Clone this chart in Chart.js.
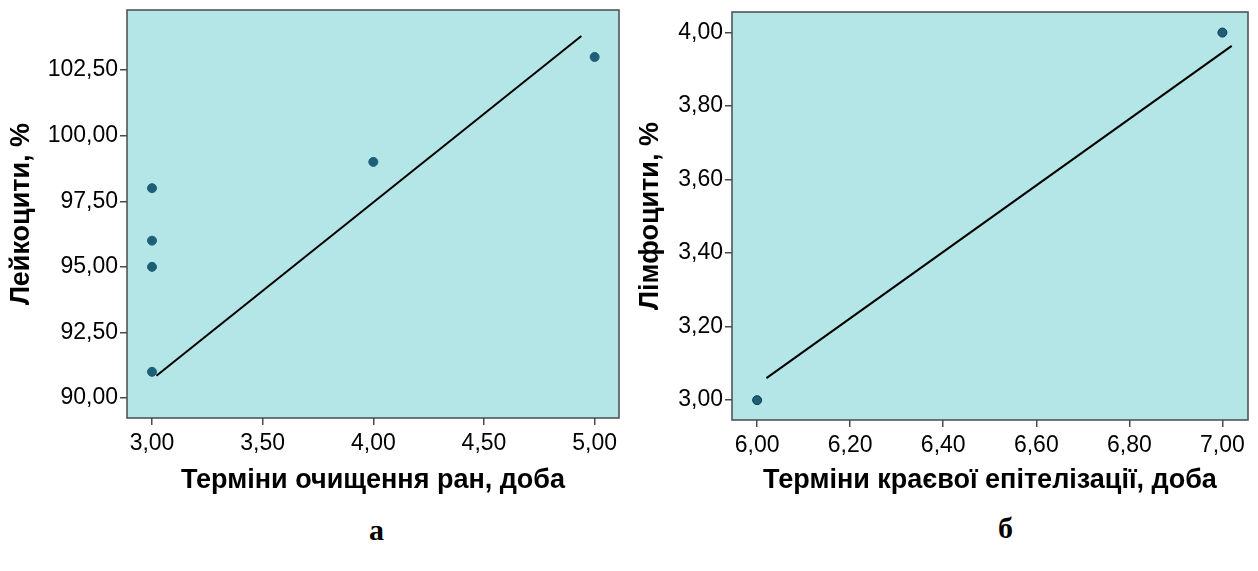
<!DOCTYPE html>
<html lang="uk">
<head>
<meta charset="utf-8">
<title>Кореляція</title>
<script src="https://cdn.jsdelivr.net/npm/chart.js@4/dist/chart.umd.min.js"></script>
<style>
  html, body { margin: 0; padding: 0; background: #ffffff; }
  #wrap { position: relative; width: 1258px; height: 571px; overflow: hidden; }
  canvas { position: absolute; top: 0; }
  #chartA { left: 0; }
  #chartB { left: 629px; }
  .caption {
    position: absolute;
    font-family: "Liberation Serif", "Times New Roman", serif;
    font-weight: bold;
    font-size: 30px;
    color: #000;
    line-height: 1;
  }
</style>
</head>
<body>
<div id="wrap">
  <canvas id="chartA" width="629" height="500"></canvas>
  <canvas id="chartB" width="629" height="500"></canvas>
  <div class="caption" style="left:369px; top:515px;">а</div>
  <div class="caption" style="left:998px; top:513px;">б</div>
</div>
<script>
(() => {
  "use strict";

  // ---------- Data: лейкоцити vs терміни очищення ран ----------
  const leukoDays = [3, 3, 3, 3, 4, 5];
  const leukoValues = [98, 96, 95, 91, 99, 103];
  const leukoFitDays = [3.02, 4.94];
  const leukoFitValues = [90.85, 103.8];
  const leukoXTicks = [3, 3.5, 4, 4.5, 5];
  const leukoYTicks = [90, 92.5, 95, 97.5, 100, 102.5];

  // ---------- Data: лімфоцити vs терміни краєвої епітелізації ----------
  const lymphoDays = [6, 7];
  const lymphoValues = [3, 4];
  const lymphoFitDays = [6.02, 7.02];
  const lymphoFitValues = [3.06, 3.964];
  const lymphoXTicks = [6, 6.2, 6.4, 6.6, 6.8, 7];
  const lymphoYTicks = [3, 3.2, 3.4, 3.6, 3.8, 4];

  // ---------- Helpers ----------
  const FONT = '"Liberation Sans", Arial, sans-serif';
  const PLOT_BG = "#b4e6e8";
  const FRAME = "#4a4a4a";

  const toPoints = (xs, ys) => xs.map((x, i) => ({ x, y: ys[i] }));
  const fmtComma = (v) => Number(v).toFixed(2).replace(".", ",");

  // fill plot background + frame around chartArea
  const plotFrame = {
    id: "plotFrame",
    beforeDatasetsDraw(chart) {
      const { ctx, chartArea: a } = chart;
      ctx.save();
      ctx.fillStyle = PLOT_BG;
      ctx.fillRect(a.left, a.top, a.right - a.left, a.bottom - a.top);
      ctx.restore();
    },
    afterDatasetsDraw(chart) {
      const { ctx, chartArea: a } = chart;
      ctx.save();
      ctx.strokeStyle = FRAME;
      ctx.lineWidth = 1.5;
      ctx.strokeRect(a.left, a.top, a.right - a.left, a.bottom - a.top);
      ctx.restore();
    },
  };

  function axis(cfg) {
    return {
      type: "linear",
      min: cfg.min,
      max: cfg.max,
      afterBuildTicks: (scale) => {
        scale.ticks = cfg.ticks.map((v) => ({ value: v }));
      },
      afterFit: (scale) => {
        if (cfg.width) scale.width = cfg.width;
        if (cfg.height) scale.height = cfg.height;
        // labels stay inside the range, no extra room needed at the ends
        scale.paddingTop = 0;
        scale.paddingBottom = 0;
        scale.paddingLeft = 0;
        scale.paddingRight = 0;
      },
      grid: {
        drawOnChartArea: false,
        drawTicks: true,
        tickLength: 7,
        tickColor: FRAME,
        lineWidth: 1.5,
      },
      border: { display: false },
      ticks: {
        color: "#000",
        padding: cfg.tickPad,
        font: { family: FONT, size: 23 },
        callback: (v) => fmtComma(v),
      },
      title: {
        display: true,
        text: cfg.title,
        color: "#000",
        font: { family: FONT, size: 27, weight: "bold" },
        padding: cfg.titlePad,
      },
    };
  }

  function buildChart(canvasId, opts) {
    const ctx = document.getElementById(canvasId).getContext("2d");
    return new Chart(ctx, {
      type: "scatter",
      data: {
        datasets: [
          {
            label: "fit",
            data: toPoints(opts.fitX, opts.fitY),
            showLine: true,
            borderColor: "#000",
            borderWidth: 2,
            pointRadius: 0,
            fill: false,
            order: 2,
          },
          {
            label: "points",
            data: toPoints(opts.xs, opts.ys),
            pointRadius: 4.5,
            pointBackgroundColor: "#1e5f78",
            pointBorderColor: opts.dotBorder,
            pointBorderWidth: 1,
            order: 1,
          },
        ],
      },
      options: {
        responsive: false,
        animation: false,
        devicePixelRatio: 1,
        layout: { padding: opts.padding },
        plugins: {
          legend: { display: false },
          tooltip: { enabled: false },
        },
        scales: {
          x: axis({
            min: opts.xMin, max: opts.xMax, ticks: opts.xTicks,
            height: opts.xHeight, tickPad: 5,
            title: opts.xTitle, titlePad: { top: 0, bottom: 3 },
          }),
          y: axis({
            min: opts.yMin, max: opts.yMax, ticks: opts.yTicks,
            width: opts.yWidth, tickPad: 2,
            title: opts.yTitle, titlePad: { top: 5, bottom: 0 },
          }),
        },
      },
      plugins: [plotFrame],
    });
  }

  // ---------- Init ----------
  buildChart("chartA", {
    xs: leukoDays, ys: leukoValues,
    fitX: leukoFitDays, fitY: leukoFitValues,
    xTicks: leukoXTicks, yTicks: leukoYTicks,
    xMin: 2.887, xMax: 5.11, yMin: 89.24, yMax: 104.79,
    yWidth: 127, xHeight: 82,
    padding: { top: 10, right: 10, left: 0, bottom: 0 },
    dotBorder: "#1e5f78",
    xTitle: "Терміни очищення ран, доба",
    yTitle: "Лейкоцити, %",
  });

  buildChart("chartB", {
    xs: lymphoDays, ys: lymphoValues,
    fitX: lymphoFitDays, fitY: lymphoFitValues,
    xTicks: lymphoXTicks, yTicks: lymphoYTicks,
    xMin: 5.946, xMax: 7.055, yMin: 2.946, yMax: 4.056,
    yWidth: 103, xHeight: 80,
    padding: { top: 12, right: 10, left: 0, bottom: 0 },
    dotBorder: "#0f3a4a",
    xTitle: "Терміни краєвої епітелізації, доба",
    yTitle: "Лімфоцити, %",
  });
})();
</script>
</body>
</html>
